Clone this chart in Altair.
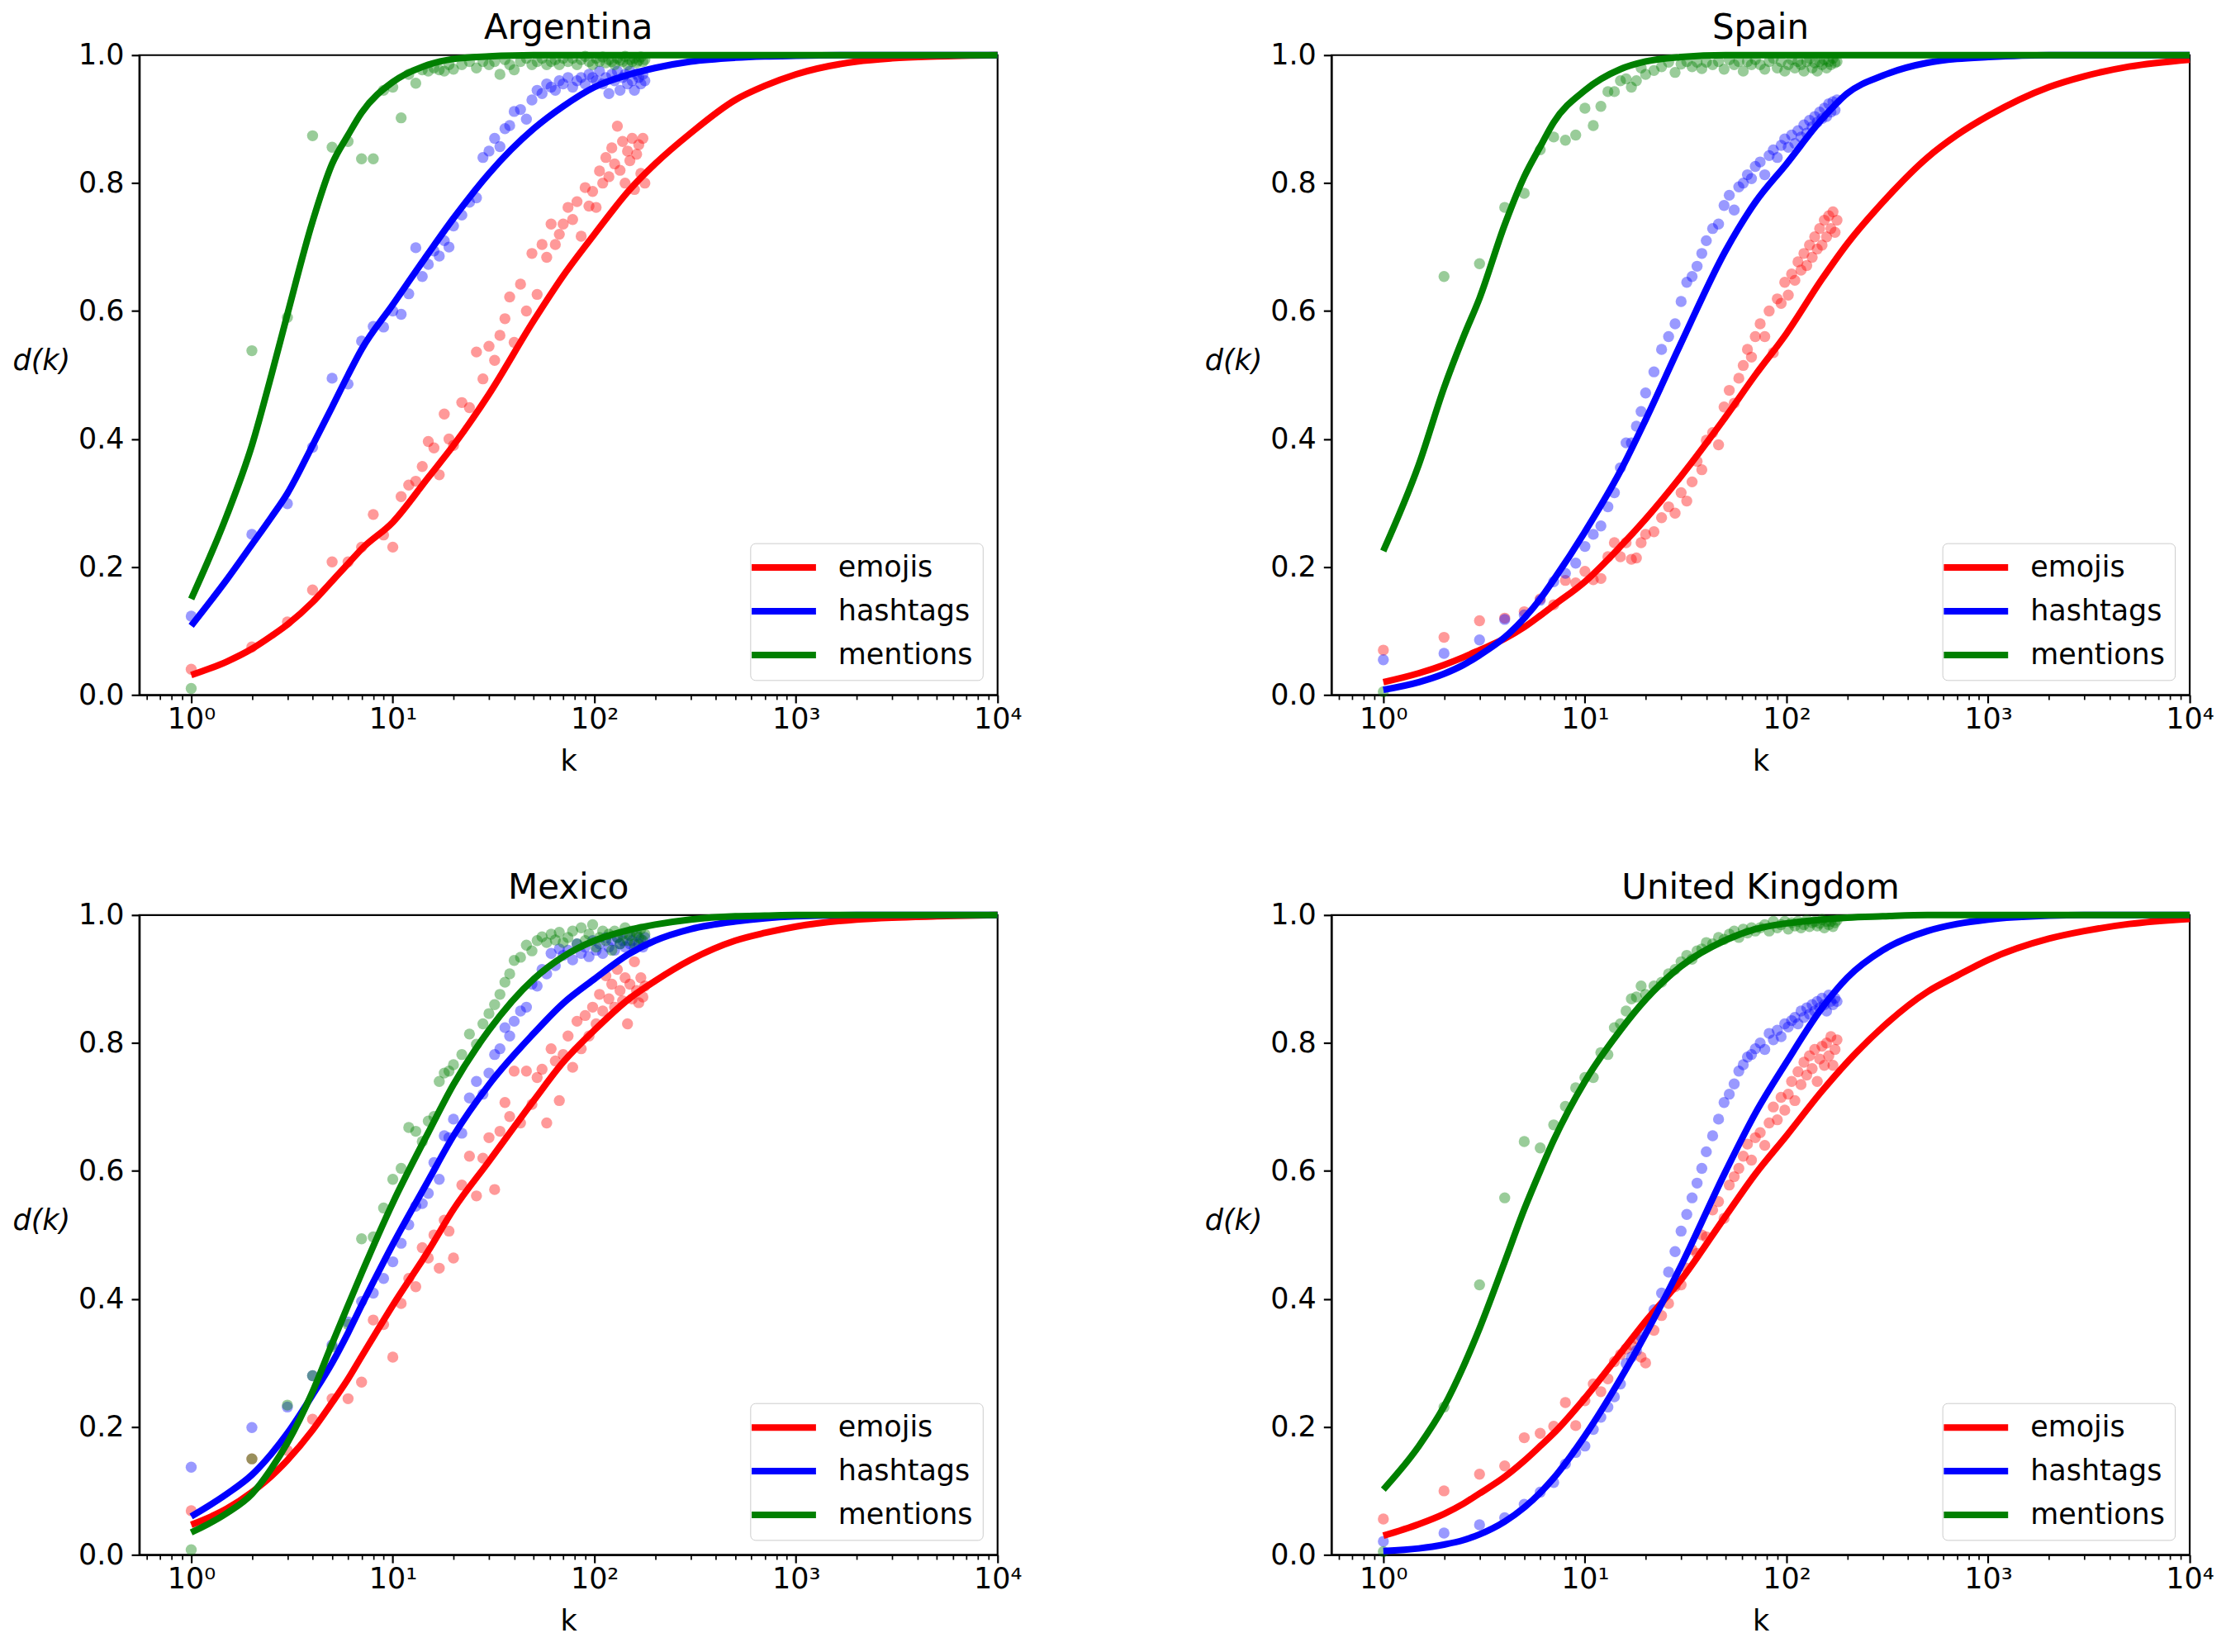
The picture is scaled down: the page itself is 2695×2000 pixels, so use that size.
import altair as alt
import pandas as pd

# ---------------- data ----------------
COUNTRIES = ["Argentina", "Spain", "Mexico", "United Kingdom"]
SERIES = ["emojis", "hashtags", "mentions"]
COLORS = ["#ff0000", "#0000ff", "#008000"]

# k values of the observed points
K_PTS = list(range(1, 21)) + list(range(22, 41, 2)) + list(range(43, 71, 3)) + list(range(74, 179, 4))
# k values at which the fitted curves were read
K_FIT = [1, 1.5, 2, 2.5, 3, 4, 5, 6, 7, 10, 15, 20, 30, 50, 70, 100, 150, 200, 300, 500, 700, 1000,
         2000, 3000, 5000, 10000]

XTICK_MAJOR = [1, 10, 100, 1000, 10000]
XTICK_LABELS = ["10\u2070", "10\u00b9", "10\u00b2", "10\u00b3", "10\u2074"]
XTICK_MINOR = [0.6, 0.7, 0.8, 0.9] + [m * 10 ** e for e in range(0, 4) for m in range(2, 10)]
YTICKS = [0.0, 0.2, 0.4, 0.6, 0.8, 1.0]

# ---- Argentina ----
ARG_EMOJIS_PTS = [
    0.04, 0.075, 0.114, 0.164, 0.208, 0.208, 0.231, 0.282, 0.25, 0.231,
    0.31, 0.328, 0.334, 0.357, 0.396, 0.386, 0.344, 0.439, 0.40, 0.39,
    0.457, 0.449, 0.536, 0.494, 0.545, 0.523, 0.562, 0.588, 0.622, 0.551,
    0.642, 0.60, 0.69, 0.626, 0.704, 0.684, 0.736, 0.704, 0.72, 0.736,
    0.762, 0.743, 0.771, 0.717, 0.793, 0.764, 0.787, 0.762, 0.819, 0.80,
    0.84, 0.81, 0.855, 0.83, 0.889, 0.82, 0.865, 0.80, 0.85, 0.835,
    0.87, 0.79, 0.845, 0.86, 0.815, 0.87, 0.80]
ARG_HASHTAGS_PTS = [
    0.123, 0.251, 0.299, 0.387, 0.495, 0.486, 0.553, 0.576, 0.575, 0.60,
    0.595, 0.627, 0.699, 0.654, 0.673, 0.694, 0.686, 0.71, 0.70, 0.733,
    0.75, 0.77, 0.777, 0.84, 0.85, 0.87, 0.857, 0.885, 0.89, 0.912,
    0.915, 0.90, 0.93, 0.945, 0.94, 0.955, 0.95, 0.945, 0.96, 0.955,
    0.965, 0.95, 0.96, 0.965, 0.955, 0.97, 0.965, 0.96, 0.975, 0.955,
    0.965, 0.94, 0.97, 0.96, 0.975, 0.945, 0.965, 0.97, 0.955, 0.975,
    0.96, 0.945, 0.97, 0.965, 0.955, 0.97, 0.96]
ARG_MENTIONS_PTS = [
    0.01, 0.538, 0.59, 0.874, 0.856, 0.865, 0.838, 0.838, 0.945, 0.95,
    0.902, 0.97, 0.956, 0.977, 0.975, 0.98, 0.977, 0.975, 0.985, 0.978,
    0.985, 0.99, 0.98, 0.99, 0.985, 0.99, 0.97, 0.993, 0.985, 0.977,
    0.99, 0.995, 0.985, 0.99, 0.995, 0.985, 0.99, 0.993, 0.985, 0.995,
    0.99, 0.995, 0.985, 0.993, 0.998, 0.99, 0.985, 0.995, 0.99, 0.997,
    0.988, 0.993, 0.99, 0.985, 0.995, 0.992, 0.99, 0.998, 0.985, 0.993,
    0.99, 0.995, 0.988, 0.992, 0.997, 0.99, 0.993]
ARG_EMOJIS_FIT = [0.031, 0.052, 0.072, 0.092, 0.11, 0.145, 0.178, 0.205, 0.228, 0.27, 0.34, 0.39,
                  0.47, 0.585, 0.655, 0.72, 0.79, 0.83, 0.878, 0.93, 0.952, 0.97, 0.99, 0.995,
                  0.998, 1.0]
ARG_HASHTAGS_FIT = [0.108, 0.18, 0.235, 0.278, 0.315, 0.39, 0.45, 0.50, 0.54, 0.61, 0.69, 0.745,
                    0.815, 0.885, 0.92, 0.95, 0.97, 0.98, 0.99, 0.996, 0.998, 0.999, 1.0, 1.0,
                    1.0, 1.0]
ARG_MENTIONS_FIT = [0.15, 0.28, 0.39, 0.50, 0.595, 0.74, 0.83, 0.875, 0.91, 0.958, 0.985, 0.994,
                    0.998, 1.0, 1.0, 1.0, 1.0, 1.0, 1.0, 1.0, 1.0, 1.0, 1.0, 1.0, 1.0, 1.0]

# ---- Spain ----
ESP_EMOJIS_PTS = [
    0.07, 0.09, 0.116, 0.12, 0.13, 0.15, 0.141, 0.179, 0.175, 0.193,
    0.18, 0.182, 0.216, 0.238, 0.216, 0.238, 0.212, 0.214, 0.238, 0.251,
    0.255, 0.277, 0.294, 0.284, 0.316, 0.303, 0.333, 0.365, 0.352, 0.398,
    0.41, 0.391, 0.45, 0.476, 0.456, 0.495, 0.515, 0.54, 0.528, 0.56,
    0.58, 0.56, 0.60, 0.535, 0.619, 0.612, 0.645, 0.625, 0.658, 0.648,
    0.677, 0.664, 0.69, 0.671, 0.703, 0.684, 0.716, 0.697, 0.729, 0.703,
    0.742, 0.716, 0.749, 0.729, 0.755, 0.723, 0.742]
ESP_HASHTAGS_PTS = [
    0.055, 0.065, 0.086, 0.118, 0.125, 0.148, 0.177, 0.19, 0.206, 0.232,
    0.251, 0.264, 0.294, 0.316, 0.355, 0.394, 0.394, 0.42, 0.443, 0.472,
    0.505, 0.54, 0.56, 0.58, 0.615, 0.645, 0.654, 0.67, 0.69, 0.71,
    0.729, 0.736, 0.765, 0.781, 0.758, 0.794, 0.80, 0.813, 0.807, 0.826,
    0.833, 0.813, 0.843, 0.852, 0.84, 0.859, 0.869, 0.856, 0.875, 0.862,
    0.882, 0.872, 0.891, 0.878, 0.898, 0.888, 0.904, 0.895, 0.911, 0.901,
    0.917, 0.904, 0.924, 0.911, 0.927, 0.914, 0.93]
ESP_MENTIONS_PTS = [
    0.005, 0.654, 0.674, 0.762, 0.784, 0.852, 0.872, 0.867, 0.875, 0.917,
    0.89, 0.92, 0.943, 0.943, 0.96, 0.963, 0.95, 0.96, 0.98, 0.97,
    0.976, 0.982, 0.989, 0.973, 0.986, 0.99, 0.982, 0.989, 0.979, 0.989,
    0.985, 0.99, 0.978, 0.993, 0.985, 0.99, 0.975, 0.99, 0.985, 0.993,
    0.985, 0.978, 0.99, 0.995, 0.98, 0.99, 0.975, 0.985, 0.993, 0.98,
    0.99, 0.985, 0.975, 0.99, 0.995, 0.98, 0.988, 0.975, 0.99, 0.985,
    0.993, 0.98, 0.99, 0.985, 0.995, 0.988, 0.99]
ESP_EMOJIS_FIT = [0.02, 0.034, 0.047, 0.059, 0.07, 0.088, 0.106, 0.124, 0.14, 0.177, 0.232, 0.275,
                  0.342, 0.435, 0.5, 0.565, 0.65, 0.705, 0.77, 0.84, 0.875, 0.905, 0.95, 0.967,
                  0.982, 0.993]
ESP_HASHTAGS_FIT = [0.008, 0.02, 0.033, 0.047, 0.062, 0.09, 0.12, 0.15, 0.18, 0.255, 0.35, 0.43,
                    0.55, 0.695, 0.77, 0.83, 0.9, 0.94, 0.968, 0.988, 0.994, 0.997, 1.0, 1.0,
                    1.0, 1.0]
ESP_MENTIONS_FIT = [0.225, 0.36, 0.48, 0.56, 0.62, 0.735, 0.81, 0.857, 0.895, 0.945, 0.978, 0.99,
                    0.997, 1.0, 1.0, 1.0, 1.0, 1.0, 1.0, 1.0, 1.0, 1.0, 1.0, 1.0, 1.0, 1.0]

# ---- Mexico ----
MEX_EMOJIS_PTS = [
    0.069, 0.15, 0.163, 0.212, 0.244, 0.244, 0.27, 0.367, 0.36, 0.309,
    0.393, 0.432, 0.419, 0.48, 0.464, 0.50, 0.448, 0.523, 0.506, 0.464,
    0.578, 0.623, 0.561, 0.62, 0.652, 0.571, 0.662, 0.707, 0.685, 0.756,
    0.675, 0.756, 0.704, 0.746, 0.759, 0.675, 0.791, 0.772, 0.71, 0.782,
    0.811, 0.762, 0.834, 0.791, 0.843, 0.811, 0.856, 0.83, 0.876, 0.85,
    0.905, 0.869, 0.892, 0.856, 0.915, 0.882, 0.866, 0.902, 0.83, 0.892,
    0.869, 0.927, 0.882, 0.863, 0.902, 0.872, 0.889]
MEX_HASHTAGS_PTS = [
    0.137, 0.199, 0.231, 0.28, 0.328, 0.364, 0.396, 0.409, 0.432, 0.458,
    0.487, 0.516, 0.545, 0.549, 0.565, 0.613, 0.587, 0.655, 0.652, 0.681,
    0.659, 0.714, 0.74, 0.72, 0.753, 0.782, 0.791, 0.824, 0.811, 0.834,
    0.85, 0.856, 0.892, 0.889, 0.915, 0.908, 0.94, 0.921, 0.947, 0.937,
    0.945, 0.93, 0.955, 0.94, 0.95, 0.935, 0.96, 0.945, 0.955, 0.94,
    0.965, 0.95, 0.96, 0.945, 0.965, 0.955, 0.96, 0.95, 0.97, 0.955,
    0.96, 0.948, 0.968, 0.955, 0.962, 0.95, 0.965]
MEX_MENTIONS_PTS = [
    0.008, 0.15, 0.234, 0.28, 0.325, 0.36, 0.494, 0.497, 0.542, 0.587,
    0.604, 0.668, 0.662, 0.646, 0.678, 0.685, 0.74, 0.753, 0.756, 0.766,
    0.782, 0.814, 0.798, 0.83, 0.846, 0.86, 0.876, 0.895, 0.908, 0.929,
    0.934, 0.953, 0.944, 0.96, 0.966, 0.957, 0.97, 0.961, 0.973, 0.957,
    0.965, 0.975, 0.955, 0.98, 0.96, 0.97, 0.985, 0.95, 0.965, 0.975,
    0.96, 0.97, 0.945, 0.975, 0.965, 0.955, 0.97, 0.98, 0.96, 0.968,
    0.975, 0.955, 0.972, 0.965, 0.978, 0.96, 0.97]
MEX_EMOJIS_FIT = [0.047, 0.072, 0.098, 0.123, 0.148, 0.195, 0.238, 0.275, 0.31, 0.39, 0.475, 0.54,
                  0.615, 0.71, 0.77, 0.82, 0.87, 0.897, 0.93, 0.96, 0.972, 0.982, 0.993, 0.996,
                  0.998, 1.0]
MEX_HASHTAGS_FIT = [0.06, 0.095, 0.125, 0.158, 0.19, 0.25, 0.30, 0.347, 0.39, 0.485, 0.585, 0.655,
                    0.735, 0.815, 0.862, 0.90, 0.94, 0.96, 0.978, 0.99, 0.995, 0.998, 1.0, 1.0,
                    1.0, 1.0]
MEX_MENTIONS_FIT = [0.035, 0.065, 0.095, 0.135, 0.175, 0.255, 0.33, 0.39, 0.44, 0.55, 0.66, 0.735,
                    0.82, 0.90, 0.935, 0.96, 0.977, 0.985, 0.993, 0.998, 0.999, 1.0, 1.0, 1.0,
                    1.0, 1.0]

# ---- United Kingdom ----
GBR_EMOJIS_PTS = [
    0.056, 0.10, 0.126, 0.139, 0.183, 0.19, 0.201, 0.238, 0.202, 0.241,
    0.267, 0.255, 0.275, 0.302, 0.313, 0.322, 0.328, 0.338, 0.309, 0.30,
    0.351, 0.374, 0.393, 0.419, 0.422, 0.448, 0.477, 0.471, 0.50, 0.497,
    0.539, 0.552, 0.526, 0.578, 0.591, 0.604, 0.623, 0.642, 0.617, 0.652,
    0.66, 0.64, 0.675, 0.70, 0.68, 0.715, 0.695, 0.72, 0.74, 0.71,
    0.755, 0.735, 0.77, 0.75, 0.78, 0.76, 0.79, 0.74, 0.775, 0.795,
    0.765, 0.80, 0.78, 0.81, 0.765, 0.79, 0.805]
GBR_HASHTAGS_PTS = [
    0.021, 0.034, 0.047, 0.058, 0.079, 0.098, 0.113, 0.142, 0.16, 0.17,
    0.196, 0.215, 0.231, 0.247, 0.267, 0.299, 0.309, 0.319, 0.341, 0.357,
    0.383, 0.409, 0.442, 0.474, 0.506, 0.532, 0.558, 0.581, 0.604, 0.63,
    0.655, 0.681, 0.707, 0.72, 0.736, 0.756, 0.766, 0.778, 0.782, 0.791,
    0.80, 0.79, 0.815, 0.805, 0.82, 0.81, 0.83, 0.825, 0.835, 0.84,
    0.83, 0.85, 0.84, 0.855, 0.845, 0.86, 0.85, 0.865, 0.855, 0.87,
    0.86, 0.85, 0.875, 0.865, 0.86, 0.87, 0.865]
GBR_MENTIONS_PTS = [
    0.005, 0.231, 0.422, 0.558, 0.646, 0.636, 0.672, 0.701, 0.73, 0.746,
    0.746, 0.785, 0.782, 0.824, 0.83, 0.85, 0.869, 0.872, 0.889, 0.876,
    0.889, 0.895, 0.908, 0.915, 0.927, 0.937, 0.931, 0.944, 0.947, 0.957,
    0.955, 0.965, 0.962, 0.97, 0.975, 0.965, 0.978, 0.972, 0.98, 0.975,
    0.98, 0.985, 0.975, 0.99, 0.98, 0.985, 0.99, 0.978, 0.988, 0.983,
    0.99, 0.98, 0.985, 0.992, 0.982, 0.988, 0.99, 0.983, 0.987, 0.993,
    0.98, 0.99, 0.985, 0.99, 0.982, 0.988, 0.992]
GBR_EMOJIS_FIT = [0.03, 0.048, 0.064, 0.08, 0.096, 0.122, 0.147, 0.17, 0.19, 0.245, 0.315, 0.365,
                  0.43, 0.53, 0.595, 0.655, 0.725, 0.77, 0.825, 0.88, 0.905, 0.93, 0.963, 0.975,
                  0.986, 0.994]
GBR_HASHTAGS_FIT = [0.006, 0.01, 0.016, 0.023, 0.032, 0.052, 0.074, 0.097, 0.12, 0.186, 0.275,
                    0.345, 0.452, 0.6, 0.69, 0.77, 0.855, 0.902, 0.945, 0.975, 0.986, 0.993, 0.999,
                    1.0, 1.0, 1.0]
GBR_MENTIONS_FIT = [0.102, 0.17, 0.232, 0.295, 0.354, 0.458, 0.54, 0.60, 0.648, 0.74, 0.82, 0.868,
                    0.92, 0.961, 0.978, 0.987, 0.993, 0.996, 0.998, 1.0, 1.0, 1.0, 1.0, 1.0, 1.0,
                    1.0]

PANELS = {
    "Argentina": ([ARG_EMOJIS_PTS, ARG_HASHTAGS_PTS, ARG_MENTIONS_PTS],
                  [ARG_EMOJIS_FIT, ARG_HASHTAGS_FIT, ARG_MENTIONS_FIT]),
    "Spain": ([ESP_EMOJIS_PTS, ESP_HASHTAGS_PTS, ESP_MENTIONS_PTS],
              [ESP_EMOJIS_FIT, ESP_HASHTAGS_FIT, ESP_MENTIONS_FIT]),
    "Mexico": ([MEX_EMOJIS_PTS, MEX_HASHTAGS_PTS, MEX_MENTIONS_PTS],
               [MEX_EMOJIS_FIT, MEX_HASHTAGS_FIT, MEX_MENTIONS_FIT]),
    "United Kingdom": ([GBR_EMOJIS_PTS, GBR_HASHTAGS_PTS, GBR_MENTIONS_PTS],
                       [GBR_EMOJIS_FIT, GBR_HASHTAGS_FIT, GBR_MENTIONS_FIT]),
}

# ---------------- styling ----------------
W, H = 1041, 776
FONT = "DejaVu Sans"
FS = 35
X_MIN = 0.553

MAJOR_TEST = "indexof([" + ",".join(str(v) for v in XTICK_MAJOR) + "], datum.value) >= 0"
label_expr = ""
for v, lab in zip(XTICK_MAJOR, XTICK_LABELS):
    label_expr += f"datum.value == {v} ? '{lab}' : "
label_expr += "''"

# legend line: custom path 8 units long (-4..4); scaled by sqrt(size)/2
LEG_SIZE = 380
LEG_HALF = 2 * (LEG_SIZE ** 0.5)
LEG_D = LEG_SIZE ** 0.5


def panel(country):
    pts_lists, fit_lists = PANELS[country]
    pts_rows, fit_rows = [], []
    for s, ys in zip(SERIES, pts_lists):
        for k, d in zip(K_PTS, ys):
            pts_rows.append({"k": k, "d": d, "kind": s})
    for s, ys in zip(SERIES, fit_lists):
        for k, d in zip(K_FIT, ys):
            fit_rows.append({"k": k, "d": d, "series": s})
    pts_df = pd.DataFrame(pts_rows)
    fit_df = pd.DataFrame(fit_rows)

    xs = alt.Scale(type="log", domain=[X_MIN, 10000], nice=False)
    ysc = alt.Scale(domain=[0, 1], nice=False, zero=False)
    xaxis = alt.Axis(
        values=sorted(XTICK_MAJOR + XTICK_MINOR), labelExpr=label_expr,
        tickSize={"condition": {"test": MAJOR_TEST, "value": 9.7}, "value": 5.6},
        tickWidth={"condition": {"test": MAJOR_TEST, "value": 2.2}, "value": 1.7},
        tickColor="black", domainColor="black", domainWidth=2.2,
        labelFont=FONT, labelFontSize=FS, labelColor="black", labelPadding=3,
        labelFlush=False, labelOverlap=False, labelBound=False, grid=False,
        titleFont=FONT, titleFontSize=FS, titleFontWeight="normal", titleColor="black",
        titlePadding=16)
    yaxis = alt.Axis(
        values=YTICKS, format=".1f", tickSize=9.7, tickWidth=2.2, tickColor="black",
        domainColor="black", domainWidth=2.2, labelFont=FONT, labelFontSize=FS,
        labelColor="black", labelPadding=9, grid=False, labelFlush=False,
        titleFont=FONT, titleFontSize=FS, titleFontWeight="normal", titleFontStyle="italic",
        titleColor="black", titleAngle=0, titleX=-154, titleY=370, titleAlign="left",
        titleBaseline="middle")
    color_scale = alt.Scale(domain=SERIES, range=COLORS)
    leg = alt.Legend(
        title=None, orient="bottom-right", offset=18, symbolType="M-4,0L4,0",
        symbolSize=LEG_SIZE, symbolStrokeWidth=8, symbolOffset=LEG_HALF - LEG_D / 2 - 18,
        labelFont=FONT, labelFontSize=FS, labelColor="black",
        labelOffset=2 * LEG_HALF - LEG_D + 25 - 35, rowPadding=17, padding=12,
        strokeColor="#cccccc", fillColor="rgba(255,255,255,0.8)", cornerRadius=6,
        labelLimit=400)

    pts = alt.Chart(pts_df).mark_circle(size=180, opacity=0.4, strokeWidth=0).encode(
        x=alt.X("k:Q", scale=xs, axis=xaxis, title="k"),
        y=alt.Y("d:Q", scale=ysc, axis=yaxis, title="d(k)"),
        color=alt.Color("kind:N", scale=color_scale, legend=None),
    )
    fit = alt.Chart(fit_df).mark_line(strokeWidth=8, interpolate="monotone").encode(
        x=alt.X("k:Q", scale=xs, axis=xaxis, title="k"),
        y=alt.Y("d:Q", scale=ysc, axis=yaxis, title="d(k)"),
        color=alt.Color("series:N", scale=color_scale, legend=leg),
    )
    return alt.layer(pts, fit).resolve_scale(color="independent").properties(
        width=W, height=H,
        view=alt.ViewBackground(stroke="black", strokeWidth=2.2),
        title=alt.TitleParams(text=country, font=FONT, fontSize=42, fontWeight="normal",
                              color="black", anchor="middle", offset=-6))


chart = alt.concat(*[panel(c) for c in COUNTRIES], columns=2,
                   spacing={"row": 111, "column": 218})
chart = chart.resolve_scale(color="independent").resolve_legend(color="independent")
chart = chart.configure_view(stroke="black", strokeWidth=2.2).configure(
    font=FONT, padding={"left": 5, "top": 1, "right": 5, "bottom": 5}, background="white")

chart.save("out.html", embed_options={"renderer": "svg", "actions": False})
